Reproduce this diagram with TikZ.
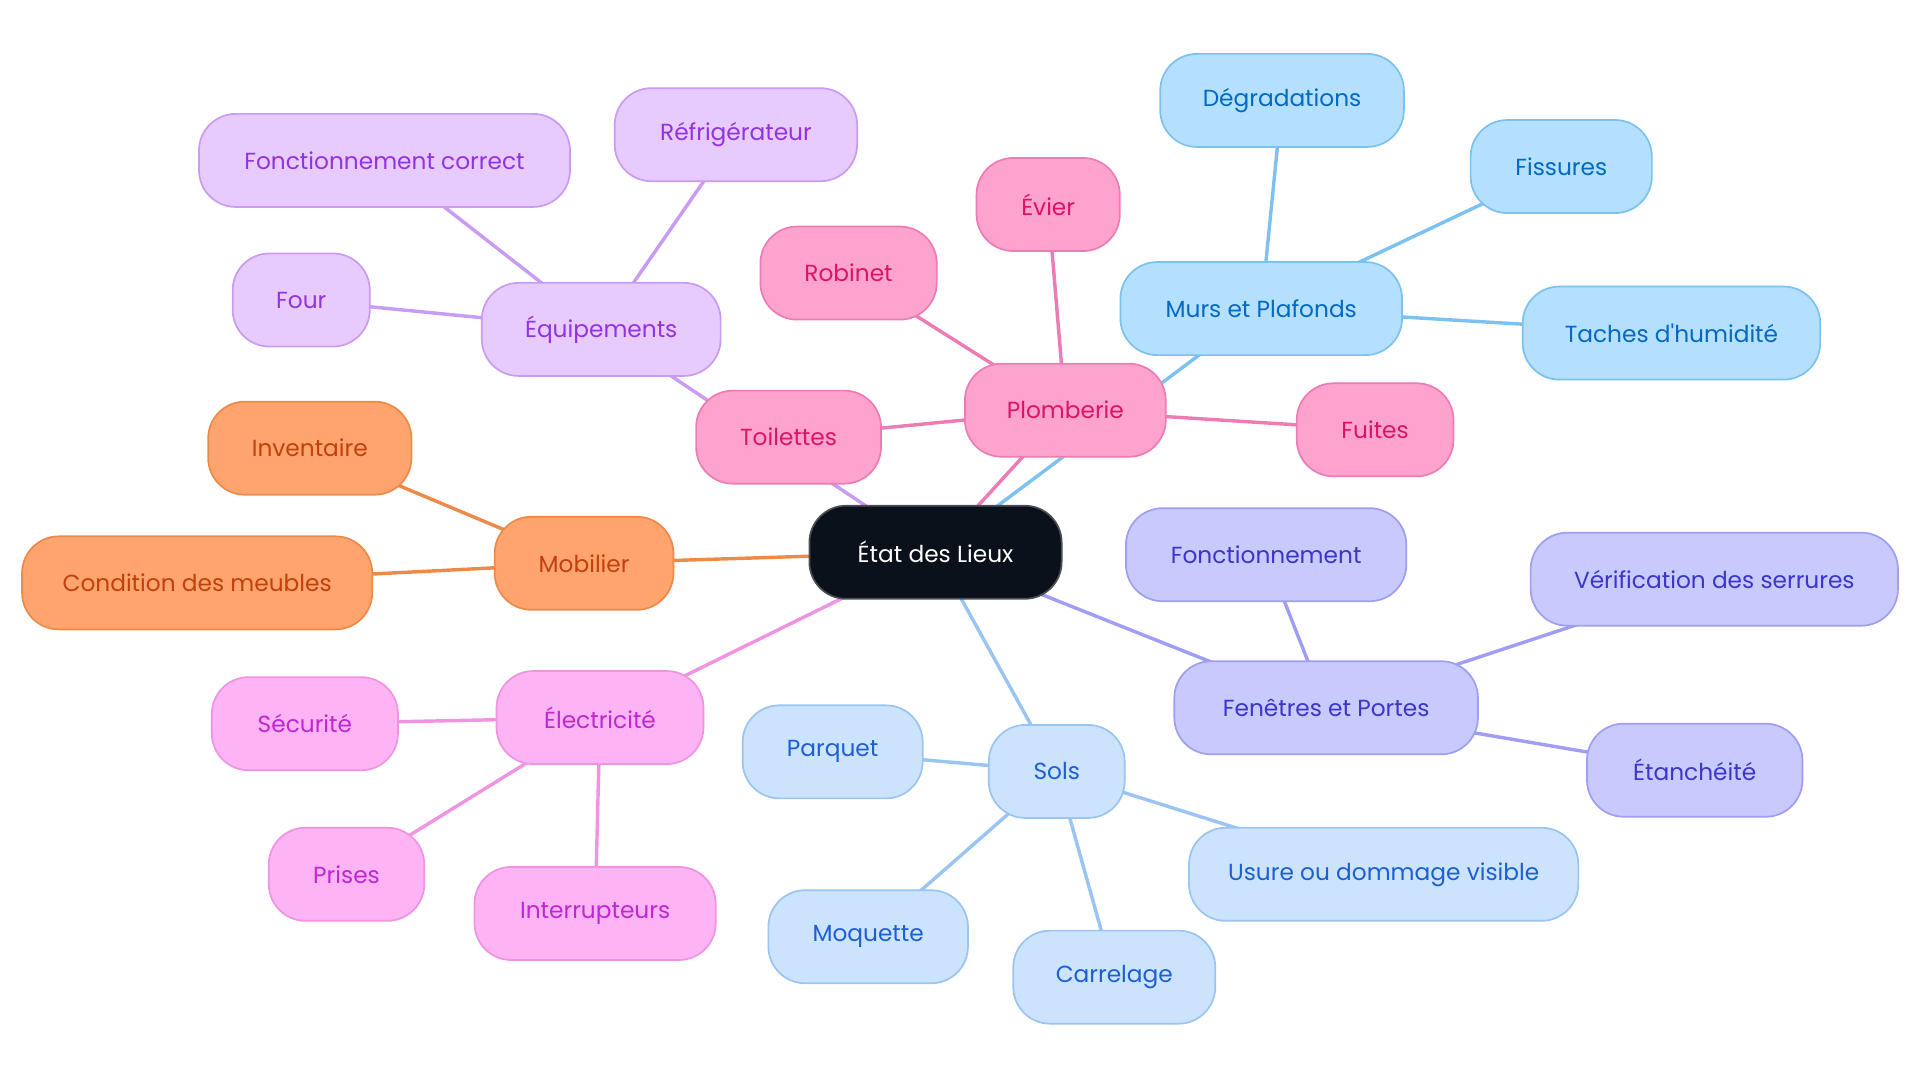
\documentclass[tikz,border=0pt]{standalone}
\usepackage{fontspec}
\setmainfont{Poppins}[Ligatures=TeXOff]
\usetikzlibrary{backgrounds}
\definecolor{rootfill}{HTML}{0B111B}
\definecolor{rootdraw}{HTML}{4A4F57}
\definecolor{purF}{HTML}{E8CBFE}\definecolor{purD}{HTML}{C99BF3}\definecolor{purT}{HTML}{9233E2}
\definecolor{pinF}{HTML}{FDA3CD}\definecolor{pinD}{HTML}{EE7CB4}\definecolor{pinT}{HTML}{DB1565}
\definecolor{bluF}{HTML}{B4E0FD}\definecolor{bluD}{HTML}{7CC2F1}\definecolor{bluT}{HTML}{0369C1}
\definecolor{oraF}{HTML}{FDA46F}\definecolor{oraD}{HTML}{EE8A48}\definecolor{oraT}{HTML}{C2410C}
\definecolor{magF}{HTML}{FDB4F4}\definecolor{magD}{HTML}{F193E3}\definecolor{magT}{HTML}{C026D3}
\definecolor{lbuF}{HTML}{CCE3FD}\definecolor{lbuD}{HTML}{9AC4F1}\definecolor{lbuT}{HTML}{1D5FD3}
\definecolor{indF}{HTML}{C8C9FD}\definecolor{indD}{HTML}{A09EF3}\definecolor{indT}{HTML}{3B35C9}
\tikzset{
  mm/.style={rounded corners=30pt, minimum height=76pt, inner sep=0pt, line width=1.4pt,
    font=\fontsize{19}{22}\selectfont},
  rootn/.style={mm, fill=rootfill, draw=rootdraw, text=white},
  pur/.style={mm, fill=purF, draw=purD, text=purT},
  pin/.style={mm, fill=pinF, draw=pinD, text=pinT},
  blu/.style={mm, fill=bluF, draw=bluD, text=bluT},
  ora/.style={mm, fill=oraF, draw=oraD, text=oraT},
  mag/.style={mm, fill=magF, draw=magD, text=magT},
  lbu/.style={mm, fill=lbuF, draw=lbuD, text=lbuT},
  ind/.style={mm, fill=indF, draw=indD, text=indT},
  ln/.style={line width=2.8pt},
}
\begin{document}
\begin{tikzpicture}[x=1pt,y=-1pt]
\useasboundingbox (0,0) rectangle (1568,884.45);
% root
\node[rootn, minimum width=206pt] (root) at (764,451) {État des Lieux};
% Équipements
\node[pur, minimum width=195pt] (equip) at (491,269) {Équipements};
\node[pur, minimum width=303pt] (fonccor) at (314,131) {Fonctionnement correct};
\node[pur, minimum width=198pt] (refri) at (601,110) {Réfrigérateur};
\node[pur, minimum width=112pt] (four) at (246,245) {Four};
% Plomberie
\node[pin, minimum width=164pt] (plomb) at (870,335) {Plomberie};
\node[pin, minimum width=151pt] (toil) at (644,357) {Toilettes};
\node[pin, minimum width=144pt] (robi) at (693,223) {Robinet};
\node[pin, minimum width=117pt] (evier) at (856,167) {Évier};
\node[pin, minimum width=128pt] (fuites) at (1123,351) {Fuites};
% Murs et Plafonds
\node[blu, minimum width=230pt] (murs) at (1030,252) {Murs et Plafonds};
\node[blu, minimum width=199pt] (degr) at (1047,82) {Dégradations};
\node[blu, minimum width=148pt] (fiss) at (1275,136) {Fissures};
\node[blu, minimum width=243pt] (tach) at (1365,272) {Taches d'humidité};
% Mobilier
\node[ora, minimum width=146pt] (mobi) at (477,460) {Mobilier};
\node[ora, minimum width=166pt] (inve) at (253,366) {Inventaire};
\node[ora, minimum width=286pt] (cond) at (161,476) {Condition des meubles};
% Électricité
\node[mag, minimum width=169pt] (elec) at (490,586) {Électricité};
\node[mag, minimum width=152pt] (secu) at (249,591) {Sécurité};
\node[mag, minimum width=127pt] (pris) at (283,714) {Prises};
\node[mag, minimum width=197pt] (inter) at (486,746) {Interrupteurs};
% Sols
\node[lbu, minimum width=111pt] (sols) at (863,630) {Sols};
\node[lbu, minimum width=147pt] (parq) at (680,614) {Parquet};
\node[lbu, minimum width=163pt] (moqu) at (709,765) {Moquette};
\node[lbu, minimum width=165pt] (carr) at (910,798) {Carrelage};
\node[lbu, minimum width=318pt] (usur) at (1130,714) {Usure ou dommage visible};
% Fenêtres et Portes
\node[ind, minimum width=248pt] (fene) at (1083,578) {Fenêtres et Portes};
\node[ind, minimum width=229pt] (fonc) at (1034,453) {Fonctionnement};
\node[ind, minimum width=300pt] (veri) at (1400,473) {Vérification des serrures};
\node[ind, minimum width=176pt] (etan) at (1384,629) {Étanchéité};
\begin{scope}[on background layer]
\draw[ln, purD] (root.center) -- (equip.center);
\draw[ln, purD] (equip.center) -- (fonccor.center);
\draw[ln, purD] (equip.center) -- (refri.center);
\draw[ln, purD] (equip.center) -- (four.center);
\draw[ln, pinD] (root.center) -- (plomb.center);
\draw[ln, pinD] (plomb.center) -- (toil.center);
\draw[ln, pinD] (plomb.center) -- (robi.center);
\draw[ln, pinD] (plomb.center) -- (evier.center);
\draw[ln, pinD] (plomb.center) -- (fuites.center);
\draw[ln, bluD] (root.center) -- (murs.center);
\draw[ln, bluD] (murs.center) -- (degr.center);
\draw[ln, bluD] (murs.center) -- (fiss.center);
\draw[ln, bluD] (murs.center) -- (tach.center);
\draw[ln, oraD] (root.center) -- (mobi.center);
\draw[ln, oraD] (mobi.center) -- (inve.center);
\draw[ln, oraD] (mobi.center) -- (cond.center);
\draw[ln, magD] (root.center) -- (elec.center);
\draw[ln, magD] (elec.center) -- (secu.center);
\draw[ln, magD] (elec.center) -- (pris.center);
\draw[ln, magD] (elec.center) -- (inter.center);
\draw[ln, lbuD] (root.center) -- (sols.center);
\draw[ln, lbuD] (sols.center) -- (parq.center);
\draw[ln, lbuD] (sols.center) -- (moqu.center);
\draw[ln, lbuD] (sols.center) -- (carr.center);
\draw[ln, lbuD] (sols.center) -- (usur.center);
\draw[ln, indD] (root.center) -- (fene.center);
\draw[ln, indD] (fene.center) -- (fonc.center);
\draw[ln, indD] (fene.center) -- (veri.center);
\draw[ln, indD] (fene.center) -- (etan.center);
\end{scope}
\end{tikzpicture}
\end{document}
